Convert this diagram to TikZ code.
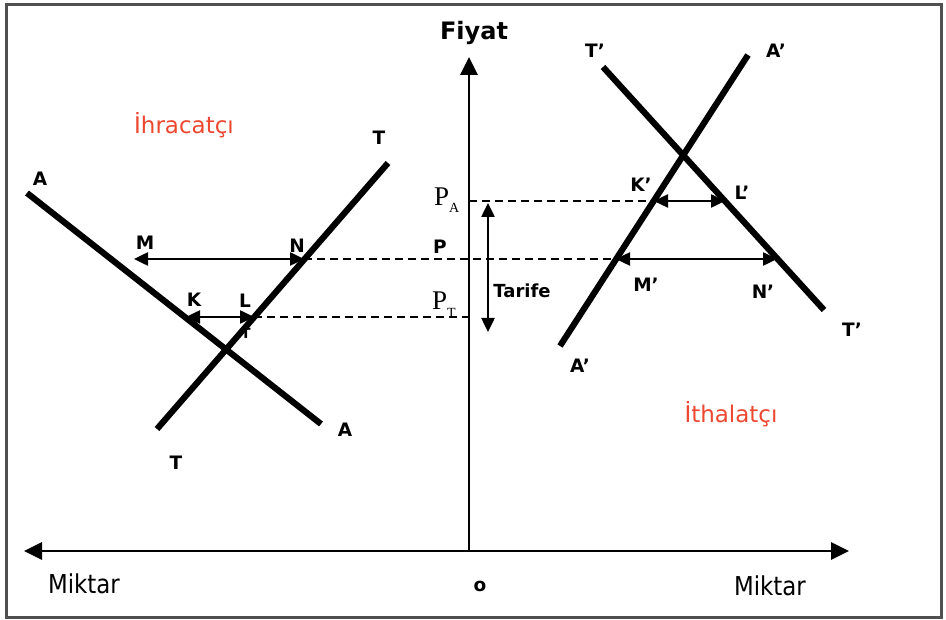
\documentclass[tikz,border=0pt]{standalone}
\usepackage{fontspec}
\setmainfont{DejaVu Sans}
\newfontfamily\serifP{Liberation Serif}
\newfontfamily\narrowsans[FakeStretch=0.88]{DejaVu Sans}
\usetikzlibrary{arrows.meta}
\definecolor{redlab}{RGB}{236,72,48}
\definecolor{framegray}{RGB}{80,80,80}
\begin{document}
\begin{tikzpicture}[x=1pt,y=-1pt,
  curve/.style={line width=6.2pt},
  axisline/.style={line width=2.8pt},
  axtip/.style={-{Triangle[length=18pt,width=17pt]}},
  gap/.style={line width=2.5pt,{Triangle[length=14pt,width=13pt]}-{Triangle[length=14pt,width=13pt]}},
  guide/.style={line width=2.2pt,dash pattern=on 8pt off 5pt},
  lab/.style={font=\bfseries\fontsize{18.5}{18.5}\selectfont,inner sep=0pt},
  word/.style={font=\fontsize{23}{23}\selectfont,inner sep=0pt},
  redword/.style={word,text=redlab},
  price/.style={font=\serifP\fontsize{27}{27}\selectfont,inner sep=0pt,anchor=base west}
]
\useasboundingbox (0,0) rectangle (946,620);
\draw[framegray,line width=3pt] (6.5,4.5) rectangle (941.5,617.5);

% coordinates of the curves
\coordinate (A1) at (27,193);
\coordinate (A2) at (321,424);
\coordinate (T1) at (157,429);
\coordinate (T2) at (388,163);
\coordinate (Ap1) at (748,55);
\coordinate (Ap2) at (560,346);
\coordinate (Tp1) at (603,67);
\coordinate (Tp2) at (824,310);
% axes
\coordinate (O) at (469,551);
\coordinate (Ytop) at (469,57);
\coordinate (Xl) at (24,551);
\coordinate (Xr) at (849,551);
\coordinate (YPA) at (469,201);
\coordinate (YPT) at (469,317);
% gap points
\coordinate (Mp) at (134,259);
\coordinate (Np) at (304,259);
\coordinate (Kp) at (186,317);
\coordinate (Lp) at (254,317);
\coordinate (Kq) at (654,201);
\coordinate (Lq) at (725,201);
\coordinate (Mq) at (616,259);
\coordinate (Nq) at (777,259);
\coordinate (Tar1) at (488,203);
\coordinate (Tar2) at (488,332);

% labels
\node[font=\bfseries\fontsize{24}{24}\selectfont,inner sep=0pt] (fiyat) at (474,33) {Fiyat};
\node[inner sep=0pt,font=\narrowsans\fontsize{26}{26}\selectfont] (miktarL) at (84,584) {Miktar};
\node[inner sep=0pt,font=\narrowsans\fontsize{26}{26}\selectfont] (miktarR) at (770,586) {Miktar};
\node[lab] (o) at (480,586) {o};
\node[redword] (ihr) at (184,125) {İhracatçı};
\node[redword] (ith) at (731,414) {İthalatçı};

\node[lab] (la1) at (40,179) {A};
\node[lab] (la2) at (345,430) {A};
\node[lab] (lt1) at (379,138) {T};
\node[lab] (lt2) at (176,463) {T};
\node[lab] (lm) at (145,243) {M};
\node[lab] (ln) at (297,246) {N};
\node[lab] (lk) at (194,300) {K};
\node[lab] (ll) at (245,301) {L};
\node[lab,font=\bfseries\fontsize{14}{14}\selectfont] (ltsmall) at (246,333) {T};
\node[lab] (lp) at (440,247) {P};
\node[lab,font=\bfseries\fontsize{18}{18}\selectfont] (tarife) at (522,291) {Tarife};
\node[price] (pa) at (434,206) {P\raisebox{-7pt}{\fontsize{14}{14}\selectfont A}};
\node[price] (pt) at (432,310) {P\raisebox{-8pt}{\fontsize{14}{14}\selectfont T}};

\node[lab] (ltp1) at (595,51) {T’};
\node[lab] (lap1) at (776,51) {A’};
\node[lab] (lkp) at (641,185) {K’};
\node[lab] (llp) at (742,193) {L’};
\node[lab] (lmp) at (646,285) {M’};
\node[lab] (lnp) at (763,292) {N’};
\node[lab] (ltp2) at (852,330) {T’};
\node[lab] (lap2) at (580,366) {A’};

% dashed guides
\draw[guide] (YPA) -- (Kq);
\draw[guide] (Np) -- (Mq);
\draw[guide] (Lp) -- (YPT);

% axes
\draw[axisline,{Triangle[length=18pt,width=17pt]}-{Triangle[length=18pt,width=17pt]}] (Xl) -- (Xr);
\draw[axisline,axtip] (O) -- (Ytop);

% curves
\draw[curve] (A1) -- (A2);
\draw[curve] (T1) -- (T2);
\draw[curve] (Ap1) -- (Ap2);
\draw[curve] (Tp1) -- (Tp2);

% gaps
\draw[gap] (Mp) -- (Np);
\draw[gap] (Kp) -- (Lp);
\draw[gap] (Kq) -- (Lq);
\draw[gap] (Mq) -- (Nq);
\draw[gap] (Tar1) -- (Tar2);
\end{tikzpicture}
\end{document}
